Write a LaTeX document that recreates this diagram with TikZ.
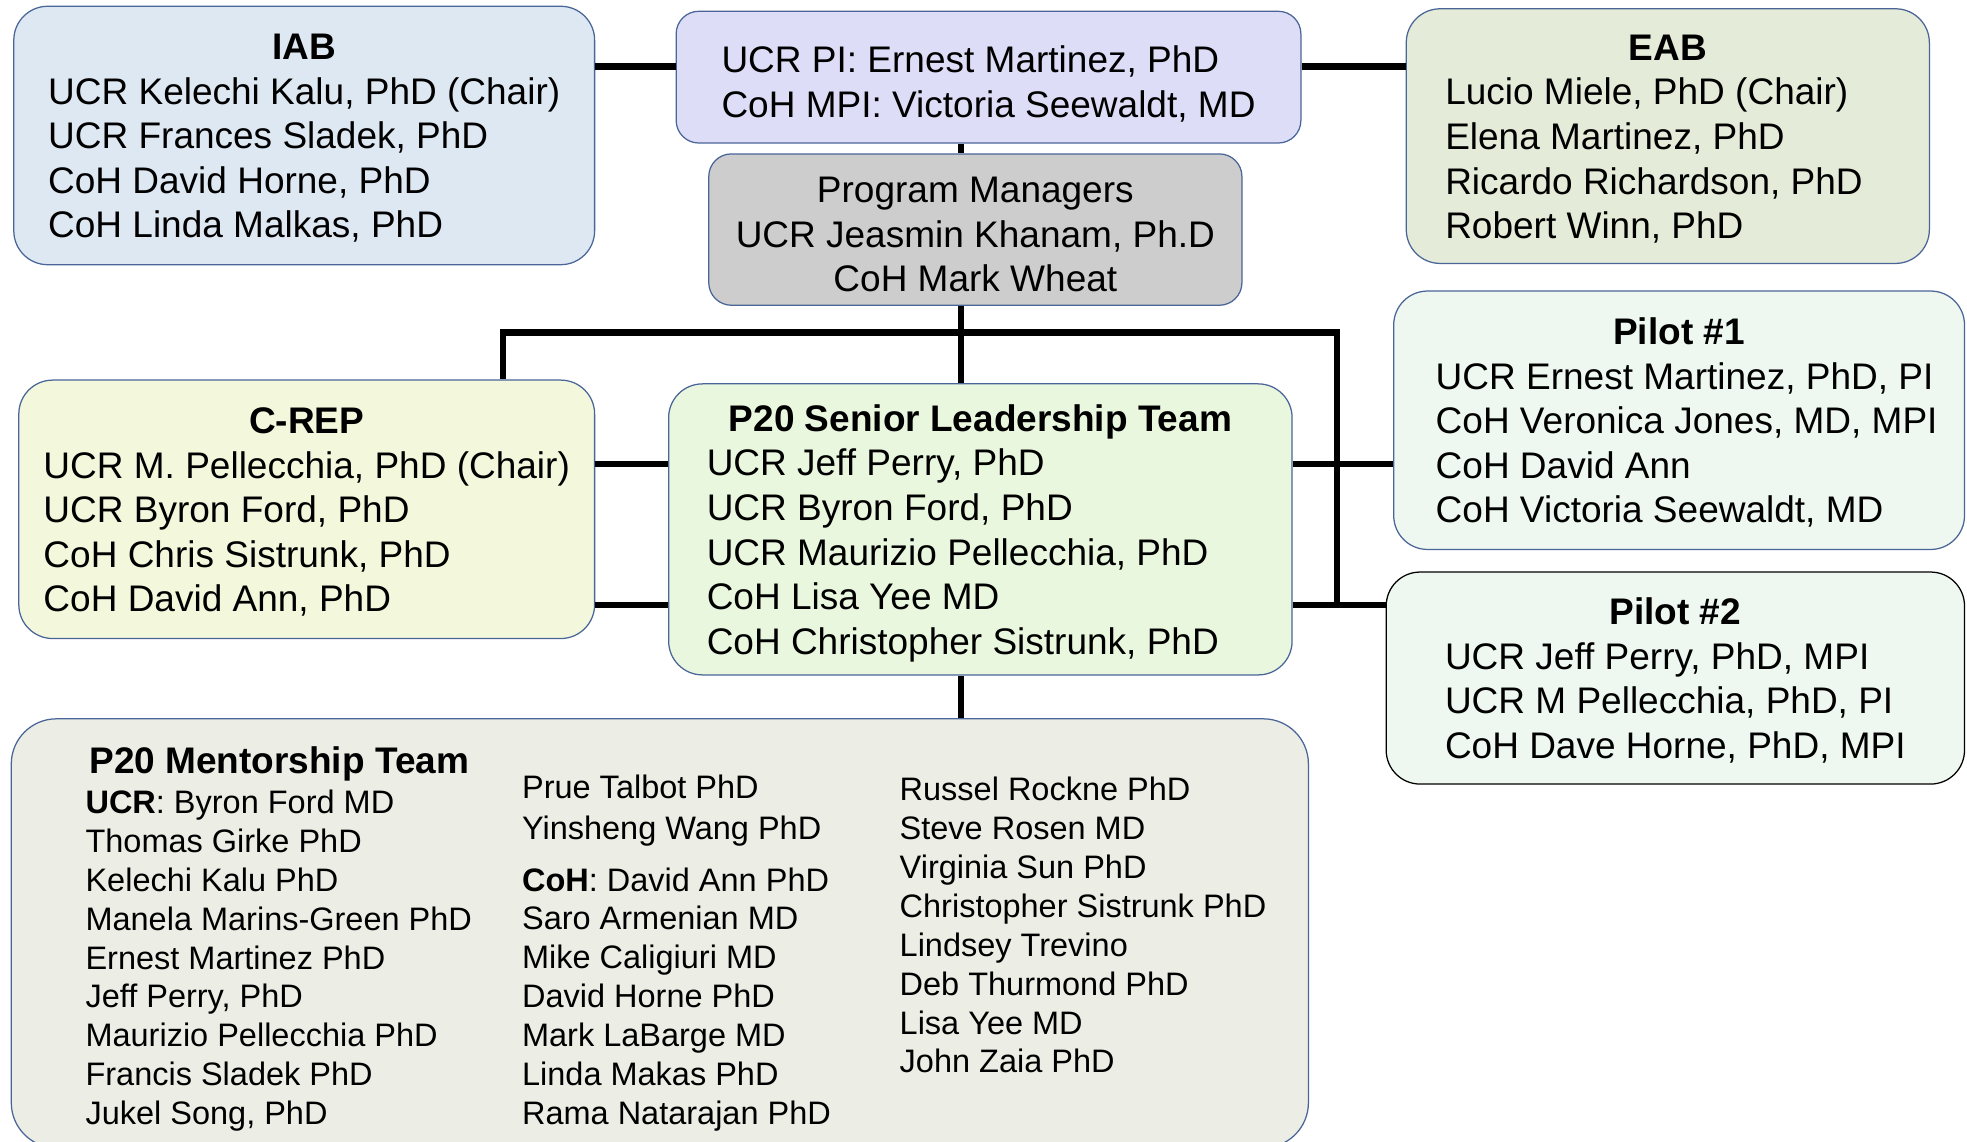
\documentclass[tikz,border=0pt]{standalone}
\usepackage{fontspec}
\setmainfont{Liberation Sans}

\definecolor{boxline}{HTML}{4A6598}
\definecolor{iabfill}{HTML}{DEE8F3}
\definecolor{pifill}{HTML}{DDDDF7}
\definecolor{pmfill}{HTML}{CDCDCD}
\definecolor{eabfill}{HTML}{E4EBD8}
\definecolor{crepfill}{HTML}{F3F8DC}
\definecolor{sltfill}{HTML}{EAF7DF}
\definecolor{pilotfill}{HTML}{EEF8F0}
\definecolor{mentorfill}{HTML}{ECEEE5}

% bold centred title over a left-aligned list of members
\newcommand{\roster}[3][@{}l@{}]{%
  \begin{tabular}{#1}
    \multicolumn{1}{@{}c@{}}{\rule{0pt}{32pt}\bfseries #2}\\
    #3
  \end{tabular}}

\begin{document}
\begin{tikzpicture}[x=1pt, y=-1pt,
    board/.style={draw=boxline, line width=1pt, rounded corners=27pt, inner sep=0pt,
      font=\fontsize{29.5}{35.5}\selectfont},
    names/.style={inner sep=0pt, anchor=base west, font=\fontsize{25.9}{31}\selectfont},
    link/.style={line width=5pt}]
    % keep the page to the size of the chart
    \useasboundingbox (0,0) rectangle (1568,910);

    % top row: the PIs with both advisory boards
    \node[board, fill=iabfill, minimum width=463pt, minimum height=206pt] (IAB) at (242.5,108)
      {\roster{IAB}{UCR Kelechi Kalu, PhD (Chair)\\ UCR Frances Sladek, PhD\\ CoH David Horne, PhD\\ CoH Linda Malkas, PhD}};
    \node[board, rounded corners=18pt, fill=pifill, minimum width=498pt, minimum height=105pt] (PI) at (788,61.5)
      {\begin{tabular}{@{}l@{}}\rule{0pt}{39pt}UCR PI: Ernest Martinez, PhD\\ CoH MPI: Victoria Seewaldt, MD\end{tabular}};
    \node[board, fill=eabfill, minimum width=417pt, minimum height=203pt] (EAB) at (1329.5,108.5)
      {\roster[@{}l@{\hspace{22pt}}]{EAB}{Lucio Miele, PhD (Chair)\\ Elena Martinez, PhD\\ Ricardo Richardson, PhD\\ Robert Winn, PhD}};
    \node[board, rounded corners=18pt, fill=pmfill, minimum width=425pt, minimum height=116pt] (PM) at (777.5,183)
      {\begin{tabular}{@{}c@{}}\rule{0pt}{39pt}Program Managers\\ UCR Jeasmin Khanam, Ph.D\\ CoH Mark Wheat\end{tabular}};

    % middle row: leadership team, C-REP and the pilots
    \node[board, fill=crepfill, minimum width=459pt, minimum height=206pt] (CREP) at (244.5,406)
      {\roster{C-REP}{UCR M. Pellecchia, PhD (Chair)\\ UCR Byron Ford, PhD\\ CoH Chris Sistrunk, PhD\\ CoH David Ann, PhD}};
    \node[board, fill=sltfill, minimum width=497pt, minimum height=232pt] (SLT) at (781.5,422)
      {\roster[@{}l@{\hspace{28pt}}]{P20 Senior Leadership Team}{UCR Jeff Perry, PhD\\ UCR Byron Ford, PhD\\ UCR Maurizio Pellecchia, PhD\\ CoH Lisa Yee MD\\ CoH Christopher Sistrunk, PhD}};
    \node[board, fill=pilotfill, minimum width=455pt, minimum height=206pt] (PilotA) at (1338.5,335)
      {\roster[@{\hspace{12pt}}l@{}]{Pilot \#1}{UCR Ernest Martinez, PhD, PI\\ CoH Veronica Jones, MD, MPI\\ CoH David Ann\\ CoH Victoria Seewaldt, MD}};
    \node[board, draw=black, fill=pilotfill, minimum width=461pt, minimum height=169pt] (PilotB) at (1335.5,540.5)
      {\roster{Pilot \#2}{UCR Jeff Perry, PhD, MPI\\ UCR M Pellecchia, PhD, PI\\ CoH Dave Horne, PhD, MPI}};

    % bottom: mentorship team in three columns
    \node[board, fill=mentorfill, rounded corners=36pt, minimum width=1034pt, minimum height=342pt] (mentor) at (526,744) {};
    \node[names] (mentorA) at (68,616.5)
      {\begin{tabular}[t]{@{}l@{}}
        {\fontsize{29.5}{35.5}\selectfont\bfseries\hspace{3pt}P20 Mentorship Team}\\[1pt]
        \textbf{UCR}: Byron Ford MD\\
        Thomas Girke PhD\\
        Kelechi Kalu PhD\\
        Manela Marins-Green PhD\\
        Ernest Martinez PhD\\
        Jeff Perry, PhD\\
        Maurizio Pellecchia PhD\\
        Francis Sladek PhD\\
        Jukel Song, PhD
      \end{tabular}};
    \node[names] (mentorB) at (416,636.3)
      {\begin{tabular}[t]{@{}l@{}}
        Prue Talbot PhD\\[2pt]
        Yinsheng Wang PhD\\[10pt]
        \textbf{CoH}: David Ann PhD\\
        Saro Armenian MD\\
        Mike Caligiuri MD\\
        David Horne PhD\\
        Mark LaBarge MD\\
        Linda Makas PhD\\
        Rama Natarajan PhD
      \end{tabular}};
    \node[names] (mentorC) at (717,638.3)
      {\begin{tabular}[t]{@{}l@{}}
        Russel Rockne PhD\\
        Steve Rosen MD\\
        Virginia Sun PhD\\
        Christopher Sistrunk PhD\\
        Lindsey Trevino\\
        Deb Thurmond PhD\\
        Lisa Yee MD\\
        John Zaia PhD
      \end{tabular}};

    % lanes and bus for the connectors
    \coordinate (toplane) at (0,53);
    \coordinate (upper) at (0,370);
    \coordinate (lower) at (0,482);
    \coordinate (bus) at (766,265);
    \coordinate (busL) at (401,265);
    \coordinate (busR) at (1066,265);

    \draw[link] (IAB.east |- toplane) -- (PI.west |- toplane);
    \draw[link] (PI.east |- toplane) -- (EAB.west |- toplane);
    \draw[link] (PI.south -| bus) -- (PM.north -| bus);
    \draw[link] (PM.south -| bus) -- (SLT.north -| bus);
    \draw[link] (CREP.north -| busL) -- (busL) -- (busR) -- (busR |- lower);
    \draw[link] (CREP.east |- upper) -- (SLT.west |- upper);
    \draw[link] (CREP.east |- lower) -- (SLT.west |- lower);
    \draw[link] (SLT.east |- upper) -- (PilotA.west |- upper);
    \draw[link] (SLT.east |- lower) -- (PilotB.west |- lower);
    \draw[link] (SLT.south -| bus) -- (mentor.north -| bus);
\end{tikzpicture}
\end{document}
